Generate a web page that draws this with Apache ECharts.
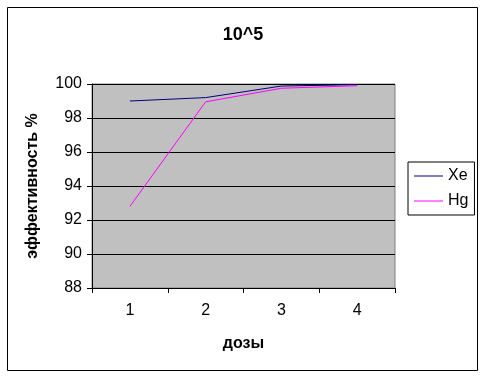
<!DOCTYPE html>
<html><head><meta charset="utf-8">
<script src="https://cdn.jsdelivr.net/npm/echarts@6/dist/echarts.min.js"></script>
<style>html,body{margin:0;padding:0;background:#fff}#c{width:486px;height:378px}</style>
</head><body><div id="c"></div>
<script>
const categories = ['1','2','3','4'];
const xeValues = [99.0, 99.2, 99.88, 99.96];
const hgValues = [92.8, 98.95, 99.75, 99.9];
const yTicks = {min: 88, max: 100, interval: 2};

const chart = echarts.init(document.getElementById('c'));
const font = 'Liberation Sans, Arial, sans-serif';
chart.setOption({
  animation: false,
  backgroundColor: '#fff',
  title: {text: '10^5', left: 'center', top: 21, textStyle: {fontFamily: font, fontSize: 18, fontWeight: 'bold', color: '#000'}},
  graphic: [{type: 'rect', shape: {x: 7.5, y: 7.5, width: 470, height: 363}, style: {fill: 'none', stroke: '#000', lineWidth: 1}, z: -1}],
  grid: {left: 92, right: 91, top: 84, bottom: 90, show: true, backgroundColor: '#C0C0C0', borderColor: '#808080', borderWidth: 1},
  legend: {
    orient: 'vertical', left: 408, top: 162,
    padding: [5, 6, 5, 6], itemGap: 7, itemWidth: 29, itemHeight: 1,
    borderColor: '#000', borderWidth: 1, backgroundColor: '#fff',
    textStyle: {fontFamily: font, fontSize: 16, color: '#000', lineHeight: 18, padding: [0, 0, 0, 0]},
    icon: 'rect',
    data: [{name: 'Xe', itemStyle: {color: '#000080'}}, {name: 'Hg', itemStyle: {color: '#FF00FF'}}]
  },
  xAxis: {
    type: 'category', data: categories, boundaryGap: true,
    name: 'дозы', nameLocation: 'middle', nameGap: 48,
    nameTextStyle: {fontFamily: font, fontSize: 16, fontWeight: 'bold', color: '#000'},
    axisLine: {lineStyle: {color: '#000', width: 1}},
    axisTick: {show: true, alignWithLabel: false, length: 5, lineStyle: {color: '#000'}},
    axisLabel: {fontFamily: font, fontSize: 16, color: '#000', margin: 15},
    splitLine: {show: false}
  },
  yAxis: {
    type: 'value', min: yTicks.min, max: yTicks.max, interval: yTicks.interval,
    name: 'эффективность %', nameLocation: 'middle', nameGap: 51, nameRotate: 90,
    nameTextStyle: {fontFamily: font, fontSize: 16, fontWeight: 'bold', color: '#000'},
    axisLine: {show: true, lineStyle: {color: '#000', width: 1}},
    axisTick: {show: true, length: 5, lineStyle: {color: '#000'}},
    axisLabel: {fontFamily: font, fontSize: 16, color: '#000', margin: 10},
    splitLine: {show: true, lineStyle: {color: '#000', width: 1}}
  },
  series: [
    {name: 'Xe', type: 'line', data: xeValues, symbol: 'none', lineStyle: {color: '#000080', width: 1}, itemStyle: {color: '#000080'}},
    {name: 'Hg', type: 'line', data: hgValues, symbol: 'none', lineStyle: {color: '#FF00FF', width: 1}, itemStyle: {color: '#FF00FF'}}
  ]
});
</script></body></html>
